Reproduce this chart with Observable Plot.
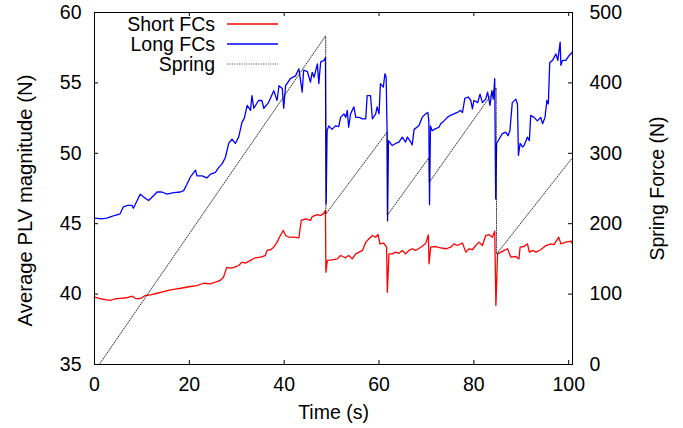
<!DOCTYPE html>
<html><head><meta charset="utf-8">
<script src="https://cdn.jsdelivr.net/npm/d3@7"></script>
<script src="https://cdn.jsdelivr.net/npm/@observablehq/plot@0.6"></script>
<style>
body{margin:0;background:#fff;}
#wrap{position:relative;width:683px;height:428px;}
</style></head><body><div id="wrap"></div>
<script>
// ---- data ----
const seriesNames = ["Short FCs", "Long FCs", "Spring"];
const xTicks = [0, 20, 40, 60, 80, 100];
const yTicks = [35, 40, 45, 50, 55, 60];
const y2Ticks = [0, 100, 200, 300, 400, 500];

const longT = [0.0,1.5,2.6,3.5,4.4,5.4,6.1,7.0,7.9,8.2,9.0,9.65,10.35,11.4,12.5,13.2,14.2,15.3,16.7,18.1,18.8,19.5,20.2,21.3,21.6,22.7,23.7,24.4,25.5,26.2,26.9,27.6,28.3,29.0,29.7,30.4,31.1,31.6,32.2,32.9,33.2,33.6,34.6,35.3,35.7,36.7,37.8,38.5,38.9,39.6,39.9,40.3,41.3,42.4,43.1,43.8,44.1,44.9,45.55,45.9,46.3,47.0,47.3,47.7,48.4,48.7,48.85,49.05,49.4,50.1,50.8,51.5,51.9,52.6,53.0,53.3,53.6,54.0,54.7,55.1,55.8,56.5,57.2,57.5,58.2,58.6,59.3,59.6,60.0,60.3,60.9,61.25,61.5,61.7,61.8,62.0,62.8,63.5,64.2,64.9,65.6,66.0,66.7,67.0,67.4,68.4,69.1,69.8,70.3,70.5,70.65,70.85,71.2,71.95,72.65,73.0,73.7,74.4,75.1,75.8,76.5,77.2,77.6,78.1,78.8,79.35,79.7,80.0,80.8,81.3,81.8,82.5,82.9,83.4,83.8,84.1,84.4,84.6,84.8,85.3,86.0,86.7,87.2,87.6,88.1,88.85,89.2,89.4,89.75,90.25,90.6,91.3,91.7,92.0,92.7,93.4,94.1,94.5,95.0,95.4,95.7,96.0,96.6,97.3,97.7,98.2,98.35,98.7,99.4,100.1,100.8];
const longV = [45.4,45.35,45.4,45.5,45.6,45.7,46.2,46.3,46.3,46.1,46.65,47.1,46.9,46.65,47.0,47.25,47.25,47.1,47.2,47.25,47.35,47.8,48.3,48.8,48.4,48.4,48.25,48.5,48.65,49.0,49.25,49.7,50.7,51.0,50.7,51.15,52.2,52.5,53.4,53.05,54.1,53.2,53.75,53.75,53.2,53.6,54.45,53.75,54.8,54.6,53.2,54.8,55.3,55.5,56.0,54.35,55.9,55.8,55.05,55.75,55.4,56.35,54.95,56.5,56.6,56.8,46.4,51.6,51.95,51.7,51.95,51.9,52.55,52.8,52.55,53.05,51.85,52.8,53.3,52.55,52.55,52.45,52.45,54.1,54.1,52.45,52.8,53.3,52.8,54.95,54.7,55.65,55.4,51.6,45.2,50.9,50.55,50.7,50.8,51.15,50.8,51.15,50.8,50.6,51.7,51.95,52.55,52.8,52.9,52.3,46.35,51.95,51.6,51.75,51.85,52.1,52.3,52.55,52.7,52.8,52.9,53.05,52.9,53.9,54.0,53.75,53.15,53.75,53.6,54.2,53.6,53.85,54.35,53.4,54.45,53.85,55.3,46.75,50.7,51.0,51.4,51.5,51.25,51.6,53.6,53.85,53.5,49.85,50.7,50.45,50.55,51.15,50.9,52.7,52.55,52.3,52.55,52.1,52.55,53.75,53.5,56.45,56.6,57.05,56.6,57.9,56.25,56.6,56.6,56.95,57.2];

const shortT = [0.0,1.2,2.3,3.3,4.4,5.4,6.8,7.9,8.6,9.3,10.0,10.7,11.8,13.2,14.6,16.0,17.4,18.8,20.2,21.6,23.0,24.4,25.5,26.5,27.2,27.9,28.7,29.4,30.4,31.1,31.8,32.9,33.9,35.0,36.0,36.4,37.1,37.8,38.5,39.2,39.8,40.3,41.0,42.0,43.1,43.6,44.5,45.55,45.9,47.0,47.7,48.4,48.7,48.8,49.1,50.1,51.2,51.9,52.9,53.6,54.35,55.1,55.8,56.5,57.2,57.9,58.6,59.3,59.8,60.2,61.0,61.6,61.75,62.1,62.8,63.5,64.2,64.9,65.6,66.3,67.0,67.7,68.8,69.8,70.4,70.55,70.9,71.95,73.0,74.1,75.1,75.8,76.5,77.6,78.3,79.0,79.7,80.4,81.1,81.8,82.5,83.2,83.9,84.4,84.65,85.0,85.7,86.4,87.1,87.8,88.85,89.5,89.75,90.6,91.3,91.7,92.4,93.1,94.1,95.2,96.2,96.9,97.9,98.35,99.4,100.5,100.8];
const shortV = [39.78,39.67,39.6,39.55,39.67,39.7,39.74,39.85,39.7,39.67,39.74,39.9,39.95,40.06,40.18,40.3,40.37,40.45,40.54,40.6,40.77,40.73,40.85,40.97,41.2,41.9,41.84,41.9,42.03,42.27,42.2,42.4,42.58,42.62,42.74,43.1,43.15,43.33,43.69,44.16,44.52,44.16,44.04,44.04,44.0,45.23,45.35,45.23,45.5,45.65,45.58,45.75,45.95,41.55,42.39,42.43,42.5,42.74,42.58,42.74,42.5,42.86,42.98,43.1,43.69,43.93,44.16,44.04,44.23,43.57,43.62,43.33,40.13,42.86,42.86,42.98,42.9,43.1,42.86,43.1,43.22,43.1,43.33,43.57,44.2,42.15,43.33,43.38,43.29,43.22,43.33,43.57,43.45,43.62,42.98,43.22,43.15,43.45,43.69,43.45,44.16,44.23,44.04,44.47,39.19,42.86,42.98,43.1,43.22,42.62,42.67,42.5,43.33,43.38,43.57,42.98,43.1,42.98,43.15,43.45,43.57,43.52,44.04,43.57,43.69,43.76,43.57];

const springT = [1.0, 48.75, 48.8, 61.7, 61.75, 70.55, 70.6, 84.7, 84.8, 100.8];
const springV = [0, 467, 214, 330, 212, 294, 259, 393, 157, 294];

// ---- build tables ----
const y2Min = 0, y2Max = 500, yMin = 35, yMax = 60;
const springToY = v => yMin + (v - y2Min) * (yMax - yMin) / (y2Max - y2Min);
const longData = longT.map((t, i) => ({t, v: longV[i]}));
const shortData = shortT.map((t, i) => ({t, v: shortV[i]}));
const springData = springT.map((t, i) => ({t, v: springToY(springV[i])}));

const W = 683, H = 428, mL = 94, mR = 111, mT = 12, mB = 64;
const innerW = W - mL - mR, innerH = H - mT - mB;
const FONT = '"Liberation Sans", Arial, Helvetica, sans-serif';
const FS = 19.5;
const RED = "#ff0000", BLUE = "#0000ff";

const chart = Plot.plot({
  width: W, height: H,
  marginLeft: mL, marginRight: mR, marginTop: mT, marginBottom: mB,
  style: {fontFamily: FONT, fontSize: FS + "px", background: "#fff", color: "#000"},
  x: {domain: [0, 100.8]},
  y: {domain: [yMin, yMax]},
  marks: [
    Plot.line(shortData, {x: "t", y: "v", stroke: RED, strokeWidth: 1.3, clip: true}),
    Plot.line(longData, {x: "t", y: "v", stroke: BLUE, strokeWidth: 1.3, clip: true}),
    Plot.line(springData, {x: "t", y: "v", stroke: "#000", strokeWidth: 0.8, strokeDasharray: "1,1.4", clip: true}),
    Plot.frame({stroke: "#000", strokeWidth: 1}),
    Plot.axisX(xTicks, {tickSize: 0, tickPadding: 13, label: null, fontSize: FS}),
    Plot.axisY(yTicks, {tickSize: 0, tickPadding: 13, label: null, fontSize: FS}),
    Plot.axisY(y2Ticks.map(springToY), {anchor: "right", tickSize: 0, tickPadding: 17, label: null, fontSize: FS,
      tickFormat: d => String(Math.round(y2Min + (d - yMin) * (y2Max - y2Min) / (yMax - yMin)))}),
    Plot.tickX(xTicks, {x: d => d, insetTop: innerH - 4, stroke: "#000"}),
    Plot.tickX(xTicks, {x: d => d, insetBottom: innerH - 4, stroke: "#000"}),
    Plot.tickY(yTicks, {y: d => d, insetRight: innerW - 4, stroke: "#000"}),
    Plot.tickY(yTicks, {y: d => d, insetLeft: innerW - 4, stroke: "#000"}),
    Plot.text(["Time (s)"], {text: d => d, frameAnchor: "bottom", dy: 48, textAnchor: "middle", lineAnchor: "middle", fontSize: FS}),
    Plot.text(["Average PLV magnitude (N)"], {text: d => d, frameAnchor: "left", dx: -69, dy: 12, rotate: -90, textAnchor: "middle", lineAnchor: "middle", fontSize: 20.3}),
    Plot.text(["Spring Force (N)"], {text: d => d, frameAnchor: "right", dx: 85, rotate: -90, textAnchor: "middle", lineAnchor: "middle", fontSize: FS})
  ]
});
document.getElementById("wrap").appendChild(chart);

// ---- legend (inside plot, top-left) ----
const svg = d3.select(chart);
const lg = svg.append("g").attr("font-family", FONT).attr("font-size", FS);
const legendStyles = [
  {stroke: RED, w: 1.3, dash: null},
  {stroke: BLUE, w: 1.3, dash: null},
  {stroke: "#000", w: 0.8, dash: "1,1.4"}
];
seriesNames.forEach((name, i) => {
  const yy = 24 + i * 20;
  lg.append("text").attr("x", 215).attr("y", yy).attr("dy", "0.36em")
    .attr("text-anchor", "end").attr("fill", "#000").text(name);
  const ln = lg.append("line").attr("x1", 227).attr("x2", 278).attr("y1", yy).attr("y2", yy)
    .attr("stroke", legendStyles[i].stroke).attr("stroke-width", legendStyles[i].w);
  if (legendStyles[i].dash) ln.attr("stroke-dasharray", legendStyles[i].dash);
});
</script>
</body></html>
